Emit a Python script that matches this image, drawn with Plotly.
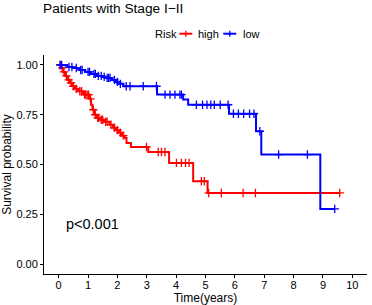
import numpy as np
import plotly.graph_objects as go

# ---- data ----
high_time = [0, 0.08, 0.15, 0.22, 0.30, 0.38, 0.45, 0.55, 0.67, 0.80, 0.85, 1.05, 1.10, 1.15, 1.22, 1.29,
             1.40, 1.55, 1.73, 1.85, 1.95, 2.05, 2.15, 2.25, 2.31, 2.46, 3.05, 3.76, 4.58, 5.07, 9.57]
high_surv = [1.0, 0.985, 0.965, 0.945, 0.925, 0.91, 0.893, 0.88, 0.868, 0.86, 0.851, 0.83, 0.80, 0.775, 0.75, 0.734,
             0.725, 0.715, 0.70, 0.685, 0.672, 0.66, 0.645, 0.633, 0.608, 0.588, 0.563, 0.508, 0.416, 0.357, 0.357]
high_censor = [0.05, 0.12, 0.18, 0.26, 0.34, 0.42, 0.50, 0.60, 0.72, 0.78, 0.88, 0.92, 0.97, 1.02, 1.08, 1.18,
               1.25, 1.33, 1.37, 1.45, 1.50, 1.60, 1.65, 1.78, 1.90, 2.00, 2.10, 2.20, 2.99, 3.39, 3.50, 3.62,
               4.01, 4.18, 4.32, 4.44, 4.86, 4.96, 5.11, 5.54, 6.28, 6.70, 9.57]

low_time = [0, 0.30, 0.50, 0.70, 0.90, 1.10, 1.30, 1.50, 1.60, 1.80, 1.95, 2.05, 2.20, 3.35, 4.24, 4.41,
            5.80, 6.72, 6.90, 8.91, 9.40]
low_surv = [1.0, 0.99, 0.985, 0.975, 0.965, 0.955, 0.945, 0.94, 0.935, 0.925, 0.915, 0.905, 0.893, 0.851, 0.826, 0.800,
            0.755, 0.667, 0.55, 0.277, 0.277]
low_censor = [0.05, 0.10, 0.35, 0.45, 0.60, 0.75, 0.80, 1.00, 1.05, 1.20, 1.25, 1.35, 1.45, 1.55, 1.65, 1.70,
              1.75, 1.90, 2.00, 2.10, 2.30, 2.43, 2.88, 3.33, 3.62, 3.79, 3.96, 4.13, 4.18, 4.69, 4.90, 5.05,
              5.18, 5.30, 5.50, 5.77, 5.95, 6.12, 6.30, 6.50, 6.65, 6.85, 7.49, 8.47, 9.40]

x_ticks = [0, 1, 2, 3, 4, 5, 6, 7, 8, 9, 10]
y_ticks = [0.0, 0.25, 0.5, 0.75, 1.0]
y_tick_labels = ["0.00", "0.25", "0.50", "0.75", "1.00"]

groups = [("high", high_time, high_surv, high_censor, "#FF0000"),
          ("low", low_time, low_surv, low_censor, "#0000FF")]

FONT = "Liberation Sans, Arial, sans-serif"
W, H = 372, 305
L, R, T, B = 44, 4.6, 55.3, 30.5
PW, PH = W - L - R, H - T - B


def px2paper_x(px):
    return (px - L) / PW


def px2paper_y(py):
    return (H - B - py) / PH


fig = go.Figure()
for name, t, s, c, col in groups:
    t_arr = np.array(t)
    s_arr = np.array(s)
    idx = np.searchsorted(t_arr, np.array(c), side="right") - 1
    cs = s_arr[idx]
    fig.add_trace(go.Scatter(x=t, y=s, mode="lines", line=dict(color=col, width=2, shape="hv"),
                             name=name, legendgroup=name, showlegend=False, hoverinfo="skip"))
    fig.add_trace(go.Scatter(x=c, y=cs, mode="markers", name=name, legendgroup=name,
                             marker=dict(symbol="cross-thin", size=6, color=col,
                                         line=dict(color=col, width=1.3)),
                             showlegend=False))

fig.add_annotation(x=0.18, y=0.2, xref="x", yref="y", text="p<0.001", showarrow=False,
                   xanchor="left", yanchor="middle", font=dict(size=14.5, color="black", family=FONT))

# ---- compact key in the style of the reference ("Risk  + high  + low") ----
key_y = px2paper_y(34)
fig.add_annotation(x=px2paper_x(153.5), y=key_y, xref="paper", yref="paper", text="Risk", showarrow=False,
                   xanchor="left", yanchor="middle", font=dict(size=11, color="black", family=FONT))
key_items = [("high", "#FF0000", 179.5, 196.5), ("low", "#0000FF", 223.5, 241.5)]
for label, col, x0, tx in key_items:
    fig.add_shape(type="line", xref="paper", yref="paper",
                  x0=px2paper_x(x0), x1=px2paper_x(x0 + 13), y0=key_y, y1=key_y,
                  line=dict(color=col, width=2))
    fig.add_shape(type="line", xref="paper", yref="paper",
                  x0=px2paper_x(x0 + 6.5), x1=px2paper_x(x0 + 6.5),
                  y0=px2paper_y(31), y1=px2paper_y(37), line=dict(color=col, width=1.3))
    fig.add_annotation(x=px2paper_x(tx), y=key_y, xref="paper", yref="paper", text=label, showarrow=False,
                       xanchor="left", yanchor="middle", font=dict(size=11, color="black", family=FONT))

fig.update_layout(
    width=W, height=H,
    margin=dict(l=L, r=R, t=T, b=B, autoexpand=False),
    paper_bgcolor="white", plot_bgcolor="white",
    font=dict(family=FONT, color="black", size=11),
    title=dict(text="Patients with Stage I\u2212II", x=43/W, xanchor="left", y=1 - 8/H, yanchor="middle",
               font=dict(size=13.7, color="black", family=FONT)),
    showlegend=False,
)
fig.update_xaxes(range=[-0.5, 10.5], tickvals=x_ticks, ticktext=[str(v) for v in x_ticks],
                 showgrid=False, zeroline=False, showline=True, linecolor="black", linewidth=1,
                 ticks="outside", ticklen=3, tickcolor="black", tickfont=dict(size=11, color="black"),
                 ticklabelstandoff=-2, automargin=False,
                 title=dict(text="Time(years)", font=dict(size=12), standoff=0))
fig.update_yaxes(range=[-0.05, 1.05], tickvals=y_ticks, ticktext=y_tick_labels,
                 showgrid=False, zeroline=False, showline=True, linecolor="black", linewidth=1,
                 ticks="outside", ticklen=3, tickcolor="black", tickfont=dict(size=11, color="black"),
                 automargin=False,
                 title=dict(text="Survival probability", font=dict(size=12), standoff=2))

fig.write_html("out.html", config={"displayModeBar": False},
               post_script="document.body.style.margin='0';document.body.style.padding='0';")
